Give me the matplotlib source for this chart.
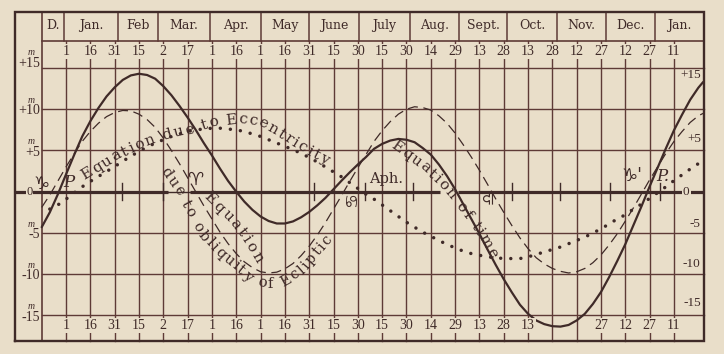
import numpy as np
import matplotlib
matplotlib.use("Agg")
import matplotlib.pyplot as plt
from matplotlib.font_manager import FontProperties

# ---------------- data: minutes, every 5 days ----------------
# day 0 = 1 January; the chart runs from mid-December to late January of next year
days = list(range(-15, 391, 5)) + [393]

equation_of_time = [
    -4.3, -2.5, -0.3, 2.1, 4.45, 6.7, 8.55, 10.15, 11.55, 12.65, 13.55, 14.1, 14.3,
    14.15, 13.7, 12.8, 11.7, 10.4, 9.0, 7.5, 5.9, 4.4, 2.8, 1.3, 0.0, -1.2, -2.2,
    -3.0, -3.55, -3.85, -3.85, -3.6, -3.1, -2.45, -1.65, -0.75, 0.3, 1.35, 2.35,
    3.3, 4.2, 5.2, 5.8, 6.2, 6.4, 6.3, 6.0, 5.3, 4.5, 3.3, 1.9, 0.3, -1.5, -3.3,
    -5.1, -7.0, -8.85, -10.6, -12.2, -13.7, -14.8, -15.6, -16.05, -16.3, -16.35,
    -16.15, -15.6, -14.8, -13.6, -12.15, -10.35, -8.4, -6.35, -4.05, -1.75, 0.65,
    2.95, 5.25, 7.45, 9.35, 11.15, 12.6, 13.3]

obliquity = [
    -1.9, -0.4, 1.3, 3.0, 4.6, 6.1, 7.3, 8.3, 9.1, 9.6, 9.85, 9.8, 9.4, 8.75, 7.8,
    6.5, 5.0, 3.4, 1.7, 0.0, -1.7, -3.3, -4.9, -6.3, -7.5, -8.5, -9.2, -9.7, -9.85,
    -9.75, -9.35, -8.7, -7.75, -6.6, -5.25, -3.75, -2.1, -0.45, 1.25, 2.9, 4.5,
    6.1, 7.4, 8.5, 9.4, 10.0, 10.3, 10.2, 9.9, 9.2, 8.3, 7.1, 5.7, 4.2, 2.6, 0.9,
    -0.85, -2.5, -4.1, -5.6, -6.9, -8.0, -8.75, -9.3, -9.65, -9.85, -9.7, -9.3,
    -8.6, -7.65, -6.45, -5.1, -3.55, -1.95, -0.25, 1.45, 3.05, 4.65, 6.1, 7.3,
    8.4, 9.2, 9.5]

eccentricity = [
    np.nan, -2.1, -1.6, -0.9, -0.15, 0.6, 1.25, 1.85, 2.45, 3.05, 3.7, 4.3, 4.9,
    5.4, 5.9, 6.3, 6.7, 7.0, 7.3, 7.5, 7.6, 7.7, 7.7, 7.6, 7.5, 7.3, 7.0, 6.7, 6.3,
    5.9, 5.5, 5.1, 4.65, 4.15, 3.6, 3.0, 2.4, 1.8, 1.1, 0.4, -0.3, -0.9, -1.6,
    -2.3, -3.0, -3.7, -4.3, -4.9, -5.4, -5.9, -6.4, -6.8, -7.2, -7.5, -7.7, -7.9,
    -8.0, -8.1, -8.1, -8.1, -7.9, -7.6, -7.3, -7.0, -6.7, -6.3, -5.9, -5.5, -5.0,
    -4.5, -3.9, -3.3, -2.8, -2.1, -1.5, -0.8, -0.1, 0.6, 1.35, 2.05, 2.75, 3.4, 3.8]

month_names = ["D.", "Jan.", "Feb", "Mar.", "Apr.", "May", "June", "July",
               "Aug.", "Sept.", "Oct.", "Nov.", "Dec.", "Jan."]
month_edges = [-14.8, -1.2, 32, 56.5, 89, 120, 150, 181, 212, 242.5, 272, 303,
               333, 363.5, 393.5]

tick_days = list(range(0, 376, 15))
top_dates = ["1", "16", "31", "15", "2", "17", "1", "16", "1", "16", "31", "15",
             "30", "15", "30", "14", "29", "13", "28", "13", "28", "12", "27",
             "12", "27", "11"]
bottom_dates = ["1", "16", "31", "15", "2", "17", "1", "16", "1", "16", "31", "15",
                "30", "15", "30", "14", "29", "13", "28", "13", "", "", "27",
                "12", "27", "11"]

grid_levels = [15, 10, 5, -5, -10, -15]
left_labels = ["+15", "+10", "+5", "-5", "-10", "-15"]
right_labels = ["+15", "+5", "-5", "-10", "-15"]
right_label_levels = [14.15, 6.45, -3.9, -8.8, -13.5]
zero_ticks = [34.5, 60, 153, 184.5, 214, 275, 305, 335.5, 366.5]

# ---------------- style ----------------
PAPER = "#E9DEC9"
INK = "#3F2A28"
GRID = "#5E3A36"
SERIF = "DejaVu Serif"
NUMF = "Liberation Serif"
SYMF = ["DejaVu Serif", "DejaVu Sans"]

fig = plt.figure(figsize=(7.24, 3.54), dpi=100, facecolor=PAPER)
ax = fig.add_axes([0, 0, 1, 1])
ax.set_xlim(-40.71, 405.85)
ax.set_ylim(-19.67, 23.24)
ax.axis("off")

X_L, X_COL, X_R = -31.76, -14.8, 393.5
Y_T, Y_HEAD, Y_B = 21.73, 18.27, -18.15

# frame and table rules
ax.plot([X_L, X_R, X_R, X_L, X_L], [Y_B, Y_B, Y_T, Y_T, Y_B], color=INK, lw=1.7,
        solid_joinstyle="miter", zorder=3)
ax.plot([X_COL, X_COL], [Y_B, Y_T], color=GRID, lw=1.2, zorder=2)
ax.plot([X_COL, X_R], [Y_HEAD, Y_HEAD], color=GRID, lw=1.2, zorder=2)
for e in month_edges[1:-1]:
    ax.plot([e, e], [Y_HEAD, Y_T], color=GRID, lw=1.1, zorder=2)
for d in tick_days:
    ax.plot([d, d], [Y_B, Y_HEAD], color=GRID, lw=1.0, zorder=1)
for lv in grid_levels:
    ax.plot([X_COL, X_R], [lv, lv], color=GRID, lw=1.0, zorder=1)

# heavy zero line (interrupted where lettering crosses it)
ax.plot([X_L, 62.9], [0, 0], color=INK, lw=2.3, zorder=2, solid_capstyle="butt")
ax.plot([62.9, 76.5], [0, 0], color=INK, lw=1.0, zorder=2)
ax.plot([76.5, 230.7], [0, 0], color=INK, lw=2.3, zorder=2, solid_capstyle="butt")
ax.plot([241.8, X_R], [0, 0], color=INK, lw=2.3, zorder=2, solid_capstyle="butt")
for d in zero_ticks:
    ax.plot([d, d], [-1.0, 1.0], color=INK, lw=1.0, zorder=2)

# ---------------- curves ----------------
ax.plot(days, equation_of_time, color=INK, lw=1.6, zorder=4,
        solid_capstyle="round", solid_joinstyle="round")
ax.plot(days, obliquity, color=INK, lw=0.9, zorder=4,
        linestyle=(0, (8, 4.5)))
ax.plot(days, eccentricity, color=INK, lw=2.5, zorder=4,
        linestyle=(0, (0.01, 2.9)), dash_capstyle="round")

# ---------------- header / scale text ----------------
for i, name in enumerate(month_names):
    xc = 0.5 * (month_edges[i] + month_edges[i + 1])
    ax.text(xc, 20.1, name, ha="center", va="center", fontsize=9,
            family=SERIF, color=INK, zorder=5)

box = dict(boxstyle="square,pad=0.08", fc=PAPER, ec="none")
for d, t in zip(tick_days, top_dates):
    ax.text(d, 17.0, t, ha="center", va="center", fontsize=10, family=NUMF,
            color=INK, bbox=box, zorder=5)
for d, t in zip(tick_days, bottom_dates):
    if t:
        ax.text(d, -16.25, t, ha="center", va="center", fontsize=10,
                family=NUMF, color=INK, bbox=box, zorder=5)

for lv, t in zip(grid_levels, left_labels):
    yv = 15.6 if lv == 15 else lv - 0.2
    ax.text(-16.0, yv, t, ha="right", va="center", fontsize=10, family=NUMF,
            color=INK, zorder=5)
    ax.text(-21.6, yv + 1.25, "m", ha="center", va="center", fontsize=7,
            family=NUMF, style="italic", color=INK, zorder=5)
ax.text(-22.5, 0, "0", ha="center", va="center", fontsize=9, family=NUMF,
        color=INK, bbox=dict(boxstyle="square,pad=0.05", fc=PAPER, ec="none"),
        zorder=5)
for lv, t in zip(right_label_levels, right_labels):
    ax.text(391.5, lv, t, ha="right", va="center", fontsize=9.5, family=NUMF,
            color=INK, zorder=5)
ax.text(382.5, 0, "0", ha="center", va="center", fontsize=9.5, family=NUMF,
        color=INK, bbox=dict(boxstyle="square,pad=0.1", fc=PAPER, ec="none"),
        zorder=5)

# ---------------- lettering along the curves ----------------
fig.canvas.draw()
renderer = fig.canvas.get_renderer()


def text_on_path(text, pts, size=11, family=SERIF, style="normal"):
    disp = ax.transData.transform(np.asarray(pts, dtype=float))
    seg = np.diff(disp, axis=0)
    seglen = np.hypot(seg[:, 0], seg[:, 1])
    cum = np.concatenate([[0.0], np.cumsum(seglen)])
    total = cum[-1]
    prop = FontProperties(family=family, size=size, style=style)
    widths = []
    for ch in text:
        if ch == " ":
            widths.append(size * fig.dpi / 72 * 0.32)
        else:
            w, h, dsc = renderer.get_text_width_height_descent(ch, prop, ismath=False)
            widths.append(w)
    widths = np.array(widths)
    centers = np.cumsum(widths) - widths / 2
    centers -= centers[0]
    extra = (total - centers[-1]) / max(len(text) - 1, 1)
    s_all = centers + extra * np.arange(len(text))

    def point(s):
        s = min(max(s, 0.0), total)
        k = min(np.searchsorted(cum, s, side="right") - 1, len(seglen) - 1)
        t = (s - cum[k]) / seglen[k]
        return disp[k] + t * seg[k]

    inv = ax.transData.inverted()
    for ch, s in zip(text, s_all):
        if ch == " ":
            continue
        p = point(s)
        a = point(s - 6)
        b = point(s + 6)
        ang = np.degrees(np.arctan2(b[1] - a[1], b[0] - a[0]))
        xd, yd = inv.transform(p)
        ax.text(xd, yd, ch, rotation=ang, rotation_mode="anchor", ha="center",
                va="center", fontsize=size, family=family, style=style,
                color=INK, zorder=6)


text_on_path("Equation due to Eccentricity",
             [(12.95, 2.15), (32.07, 4.45), (51.81, 6.27), (65.38, 7.0),
              (80.18, 7.73), (91.9, 8.45), (107.3, 8.82), (119.7, 8.45),
              (130.1, 7.36), (139.4, 6.15), (148.6, 5.06), (159.1, 3.97)],
             size=11)
text_on_path("Equation",
             [(88.82, -0.76), (102.39, -3.42), (111.02, -5.61), (117.81, -7.91)],
             size=11)
text_on_path("due to obliquity of Ecliptic",
             [(61.68, 2.27), (70.31, -0.15), (76.48, -2.45), (84.5, -5.24),
              (96.22, -7.67), (109.17, -9.73), (116.57, -10.94), (124.59, -11.18),
              (133.23, -11.06), (145.56, -9.49), (151.74, -8.03), (160.99, -5.85)],
             size=10.5)
text_on_path("Equation of time",
             [(204.16, 5.42), (218.34, 3.48), (230.68, 1.30), (239.93, -0.88),
              (249.18, -3.18), (257.2, -5.48), (262.75, -7.42)],
             size=11)

# ---------------- signs ----------------
ax.text(-15.4, 0.94, "\u2651", ha="center", va="center", fontsize=13,
        family=SYMF, color=INK, zorder=6)
ax.text(1.85, 1.06, "P", ha="center", va="center", fontsize=12, family=SERIF,
        style="italic", color=INK, zorder=6)
ax.text(79.6, 1.42, "\u2648", ha="center", va="center", fontsize=13,
        family=SYMF, color=INK, zorder=6)
ax.text(173.3, -1.13, "\u264B", ha="center", va="center", fontsize=12,
        family=SYMF, rotation=-90, color=INK, zorder=6)
ax.text(197.4, 1.55, "Aph.", ha="center", va="center", fontsize=10.5,
        family=SERIF, color=INK, zorder=6)
ax.text(260.9, -0.64, "\u264E", ha="center", va="center", fontsize=12,
        family=SYMF, rotation=90, color=INK, zorder=6)
ax.text(349.1, 1.9, "\u2651'", ha="center", va="center", fontsize=13,
        family=SYMF, color=INK, zorder=6)
ax.text(368.2, 1.9, "P.", ha="center", va="center", fontsize=12, family=SERIF,
        style="italic", color=INK, zorder=6)

fig.savefig("out.png", dpi=100, facecolor=PAPER)
